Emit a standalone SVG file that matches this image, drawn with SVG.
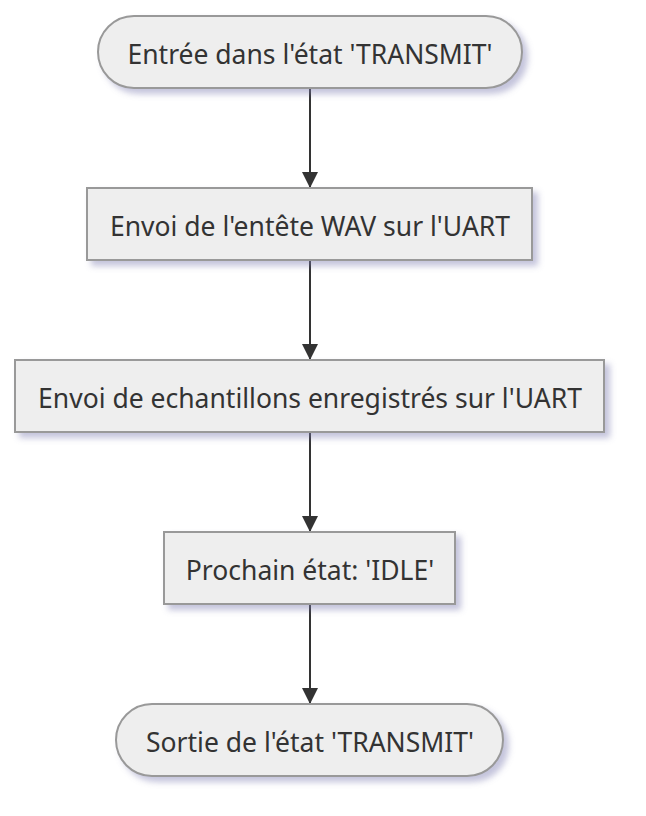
<svg xmlns="http://www.w3.org/2000/svg" width="646" height="816" viewBox="0 0 646 816">
<defs>
<filter id="sh" x="-10%" y="-30%" width="130%" height="180%">
<feDropShadow dx="5" dy="5" stdDeviation="3" flood-color="#7c7cb0" flood-opacity="0.45"/>
</filter>
<marker id="ah" markerWidth="16" markerHeight="16" viewBox="0 0 16 16" refX="16" refY="8" orient="auto" markerUnits="userSpaceOnUse">
<path d="M0,0 L16,8 L0,16 Z" fill="#333"/>
</marker>
</defs>
<style>
.n{fill:#eeeeee;stroke:#999999;stroke-width:2;filter:url(#sh)}
.t{font-family:"Noto Sans","DejaVu Sans",sans-serif;font-size:26.5px;fill:#333333;text-anchor:middle}
.e{stroke:#333333;stroke-width:2;fill:none;marker-end:url(#ah)}
</style>
<rect width="646" height="816" fill="#ffffff"/>
<g id="edges">
<path class="e" d="M310,88 L310,188"/>
<path class="e" d="M310,260 L310,360"/>
<path class="e" d="M310,432 L310,532"/>
<path class="e" d="M310,604 L310,704"/>
</g>
<g id="n1">
<rect class="n" x="98" y="16" width="424" height="72" rx="36" ry="36"/>
<text class="t" x="310" y="64">Entrée dans l'état 'TRANSMIT'</text>
</g>
<g id="n2">
<rect class="n" x="87" y="188" width="445" height="72"/>
<text class="t" x="310" y="236">Envoi de l'entête WAV sur l'UART</text>
</g>
<g id="n3">
<rect class="n" x="15" y="360" width="589" height="72"/>
<text class="t" x="310" y="408">Envoi de echantillons enregistrés sur l'UART</text>
</g>
<g id="n4">
<rect class="n" x="164" y="532" width="291" height="72"/>
<text class="t" x="310" y="580">Prochain état: 'IDLE'</text>
</g>
<g id="n5">
<rect class="n" x="116" y="704" width="387" height="72" rx="36" ry="36"/>
<text class="t" x="310" y="752">Sortie de l'état 'TRANSMIT'</text>
</g>
</svg>
